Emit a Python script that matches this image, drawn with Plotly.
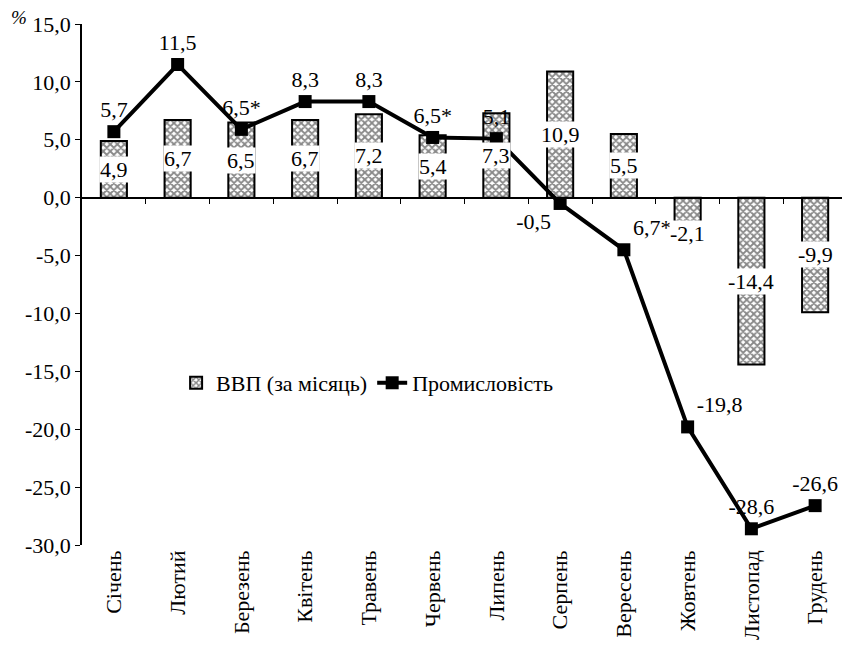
import plotly.graph_objects as go

months = ["Січень", "Лютий", "Березень", "Квітень", "Травень", "Червень",
          "Липень", "Серпень", "Вересень", "Жовтень", "Листопад", "Грудень"]
gdp = [4.9, 6.7, 6.5, 6.7, 7.2, 5.4, 7.3, 10.9, 5.5, -2.1, -14.4, -9.9]
industry = [5.7, 11.5, 5.9, 8.3, 8.3, 5.2, 5.1, -0.5, -4.5, -19.8, -28.6, -26.6]
industry_labels = ["5,7", "11,5", "6,5*", "8,3", "8,3", "6,5*", "5,1", "-0,5",
                   "6,7*", "-19,8", "-28,6", "-26,6"]
gdp_labels = ["4,9", "6,7", "6,5", "6,7", "7,2", "5,4", "7,3", "10,9", "5,5",
              "-2,1", "-14,4", "-9,9"]
y_ticks = [15, 10, 5, 0, -5, -10, -15, -20, -25, -30]
y_tick_labels = ["15,0", "10,0", "5,0", "0,0", "-5,0", "-10,0", "-15,0",
                 "-20,0", "-25,0", "-30,0"]

FONT = "Liberation Serif"
FS = 22
idx = list(range(len(months)))

fig = go.Figure()
fig.add_trace(go.Bar(
    x=idx, y=gdp, name="ВВП (за місяць)", width=0.41,
    marker=dict(color="white", line=dict(color="black", width=2),
                pattern=dict(shape="x", size=5, solidity=0.6,
                             fgcolor="#111111", bgcolor="white")),
    xaxis="x", yaxis="y",
))
text_pos = ["top center", "top center", "top center", "top center", "top center",
            "top center", "top center", "bottom left", "top right", "top right",
            "top center", "top center"]
fig.add_trace(go.Scatter(
    x=idx, y=industry, name="Промисловість", mode="lines+markers+text",
    line=dict(color="black", width=4),
    marker=dict(symbol="square", size=13, color="black"),
    text=industry_labels, textposition=text_pos,
    textfont=dict(family=FONT, size=FS, color="black"),
    xaxis="x2", yaxis="y", cliponaxis=False,
))

for i, v in enumerate(gdp):
    # centre of the bar, or just past its end when the bar is short
    ly = v / 2 if abs(v) >= 4 else v + (1.0 if v > 0 else -1.0)
    fig.add_annotation(x=i, y=ly, xref="x", yref="y", text=gdp_labels[i],
                       showarrow=False, bgcolor="white", borderpad=0,
                       font=dict(family=FONT, size=FS, color="black"))

fig.add_annotation(x=-0.082, y=1.0134, xref="paper", yref="paper", text="<i>%</i>",
                   xanchor="center", yanchor="middle",
                   showarrow=False, font=dict(family=FONT, size=19, color="black"))

fig.update_layout(
    width=850, height=647,
    margin=dict(l=74, r=11, t=16, b=110, autoexpand=False),
    paper_bgcolor="white", plot_bgcolor="white",
    font=dict(family=FONT, size=FS, color="black"),
    showlegend=True,
    legend=dict(orientation="h", x=0.123, y=0.311, xanchor="left", yanchor="middle",
                bgcolor="rgba(0,0,0,0)", font=dict(family=FONT, size=FS),
                itemwidth=30, tracegroupgap=0),
    xaxis=dict(range=[-0.5, 11.5], tickmode="array", tickvals=idx, ticktext=months,
               tickangle=-90, showline=False, ticks="", showgrid=False, zeroline=False,
               automargin=False, tickfont=dict(family=FONT, size=FS)),
    xaxis2=dict(range=[-0.5, 11.5], overlaying="x", anchor="free", position=2 / 3,
                tickmode="array", tickvals=[i + 0.5 for i in idx],
                showticklabels=False, ticks="outside", ticklen=6, tickcolor="black",
                showline=True, linecolor="black", linewidth=1.5, showgrid=False,
                zeroline=False, automargin=False),
    yaxis=dict(range=[-30, 15], tickmode="array", tickvals=y_ticks,
               ticktext=y_tick_labels, showline=True, automargin=False,
               linecolor="black", linewidth=1.5, ticks="outside", ticklen=5,
               tickcolor="black", showgrid=False, zeroline=False,
               tickfont=dict(family=FONT, size=FS)),
)

fig.write_html("out.html")
